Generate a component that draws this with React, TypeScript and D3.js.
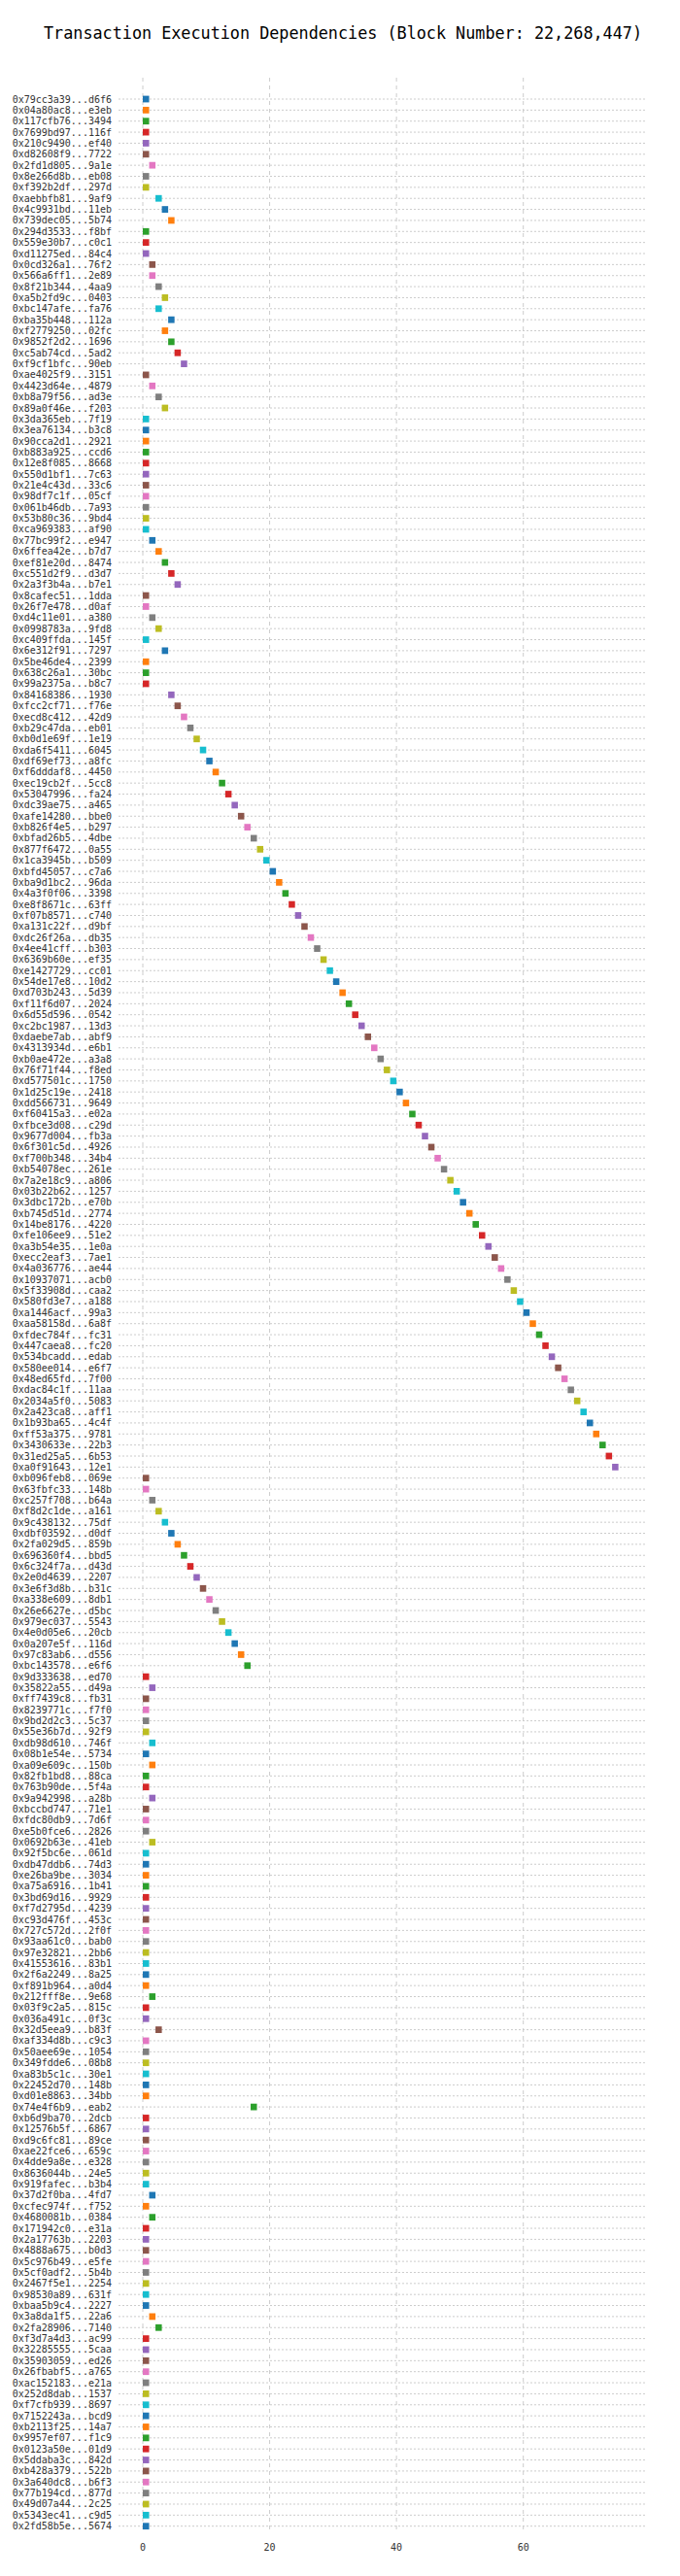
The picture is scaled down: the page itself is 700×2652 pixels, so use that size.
import React from "react";
import * as d3 from "d3";

const title = "Transaction Execution Dependencies (Block Number: 22,268,447)";

const txLabels: string[] = [
  "0x79cc3a39...d6f6","0x04a80ac8...e3eb","0x117cfb76...3494","0x7699bd97...116f","0x210c9490...ef40",
  "0xd82608f9...7722","0x2fd1d805...9a1e","0x8e266d8b...eb08","0xf392b2df...297d","0xaebbfb81...9af9",
  "0x4c9931bd...11eb","0x739dec05...5b74","0x294d3533...f8bf","0x559e30b7...c0c1","0xd11275ed...84c4",
  "0x0cd326a1...76f2","0x566a6ff1...2e89","0x8f21b344...4aa9","0xa5b2fd9c...0403","0xbc147afe...fa76",
  "0xba35b448...112a","0xf2779250...02fc","0x9852f2d2...1696","0xc5ab74cd...5ad2","0xf9cf1bfc...90eb",
  "0xae4025f9...3151","0x4423d64e...4879","0xb8a79f56...ad3e","0x89a0f46e...f203","0x3da365eb...7f19",
  "0x3ea76134...b3c8","0x90cca2d1...2921","0xb883a925...ccd6","0x12e8f085...8668","0x550d1bf1...7c63",
  "0x21e4c43d...33c6","0x98df7c1f...05cf","0x061b46db...7a93","0x53b80c36...9bd4","0xca969383...af90",
  "0x77bc99f2...e947","0x6ffea42e...b7d7","0xef81e20d...8474","0xc551d2f9...d3d7","0x2a3f3b4a...b7e1",
  "0x8cafec51...1dda","0x26f7e478...d0af","0xd4c11e01...a380","0x0998783a...9fd8","0xc409ffda...145f",
  "0x6e312f91...7297","0x5be46de4...2399","0x638c26a1...30bc","0x99a2375a...b8c7","0x84168386...1930",
  "0xfcc2cf71...f76e","0xecd8c412...42d9","0xb29c47da...eb01","0xb0d1e69f...1e19","0xda6f5411...6045",
  "0xdf69ef73...a8fc","0xf6dddaf8...4450","0xec19cb2f...5cc8","0x53047996...fa24","0xdc39ae75...a465",
  "0xafe14280...bbe0","0xb826f4e5...b297","0xbfad26b5...4dbe","0x877f6472...0a55","0x1ca3945b...b509",
  "0xbfd45057...c7a6","0xba9d1bc2...96da","0x4a3f0f06...3398","0xe8f8671c...63ff","0xf07b8571...c740",
  "0xa131c22f...d9bf","0xdc26f26a...db35","0x4ee41cff...b303","0x6369b60e...ef35","0xe1427729...cc01",
  "0x54de17e8...10d2","0xd703b243...5d39","0xf11f6d07...2024","0x6d55d596...0542","0xc2bc1987...13d3",
  "0xdaebe7ab...abf9","0x4313934d...e6b1","0xb0ae472e...a3a8","0x76f71f44...f8ed","0xd577501c...1750",
  "0x1d25c19e...2418","0xdd566731...9649","0xf60415a3...e02a","0xfbce3d08...c29d","0x9677d004...fb3a",
  "0x6f301c5d...4926","0xf700b348...34b4","0xb54078ec...261e","0x7a2e18c9...a806","0x03b22b62...1257",
  "0x3dbc172b...e70b","0xb745d51d...2774","0x14be8176...4220","0xfe106ee9...51e2","0xa3b54e35...1e0a",
  "0xecc2eaf3...7ae1","0x4a036776...ae44","0x10937071...acb0","0x5f33908d...caa2","0x580fd3e7...a188",
  "0xa1446acf...99a3","0xaa58158d...6a8f","0xfdec784f...fc31","0x447caea8...fc20","0x534bcadd...edab",
  "0x580ee014...e6f7","0x48ed65fd...7f00","0xdac84c1f...11aa","0x2034a5f0...5083","0x2a423ca8...aff1",
  "0x1b93ba65...4c4f","0xff53a375...9781","0x3430633e...22b3","0x31ed25a5...6b53","0xa0f91643...12e1",
  "0xb096feb8...069e","0x63fbfc33...148b","0xc257f708...b64a","0xf8d2c1de...a161","0x9c438132...75df",
  "0xdbf03592...d0df","0x2fa029d5...859b","0x696360f4...bbd5","0x6c324f7a...d43d","0x2e0d4639...2207",
  "0x3e6f3d8b...b31c","0xa338e609...8db1","0x26e6627e...d5bc","0x979ec037...5543","0x4e0d05e6...20cb",
  "0x0a207e5f...116d","0x97c83ab6...d556","0xbc143578...e6f6","0x9d333638...ed70","0x35822a55...d49a",
  "0xff7439c8...fb31","0x8239771c...f7f0","0x9bd2d2c3...5c37","0x55e36b7d...92f9","0xdb98d610...746f",
  "0x08b1e54e...5734","0xa09e609c...150b","0x82fb1bd8...88ca","0x763b90de...5f4a","0x9a942998...a28b",
  "0xbccbd747...71e1","0xfdc80db9...7d6f","0xe5b0fce6...2826","0x0692b63e...41eb","0x92f5bc6e...061d",
  "0xdb47ddb6...74d3","0xe26ba9be...3034","0xa75a6916...1b41","0x3bd69d16...9929","0xf7d2795d...4239",
  "0xc93d476f...453c","0x727c572d...2f0f","0x93aa61c0...bab0","0x97e32821...2bb6","0x41553616...83b1",
  "0x2f6a2249...8a25","0xf891b964...a0d4","0x212fff8e...9e68","0x03f9c2a5...815c","0x036a491c...0f3c",
  "0x32d5eea9...b83f","0xaf334d8b...c9c3","0x50aee69e...1054","0x349fdde6...08b8","0xa83b5c1c...30e1",
  "0x22452d70...148b","0xd01e8863...34bb","0x74e4f6b9...eab2","0xb6d9ba70...2dcb","0x12576b5f...6867",
  "0xd9c6fc81...89ce","0xae22fce6...659c","0x4dde9a8e...e328","0x8636044b...24e5","0x919fafec...b3b4",
  "0x37d2f0ba...4fd7","0xcfec974f...f752","0x4680081b...0384","0x171942c0...e31a","0x2a17763b...2203",
  "0x4888a675...b0d3","0x5c976b49...e5fe","0x5cf0adf2...5b4b","0x2467f5e1...2254","0x98530a89...631f",
  "0xbaa5b9c4...2227","0x3a8da1f5...22a6","0x2fa28906...7140","0xf3d7a4d3...ac99","0x32285555...5caa",
  "0x35903059...ed26","0x26fbabf5...a765","0xac152183...e21a","0x252d8dab...1537","0xf7cfb939...8697",
  "0x7152243a...bcd9","0xb2113f25...14a7","0x9957ef07...f1c9","0x0123a50e...01d9","0x5ddaba3c...842d",
  "0xb428a379...522b","0x3a640dc8...b6f3","0x77b194cd...877d","0x49d07a44...2c25","0x5343ec41...c9d5",
  "0x2fd58b5e...5674",
];

const startSteps: number[] = [
  0,0,0,0,0,0,1,0,0,2,
  3,4,0,0,0,1,1,2,3,2,
  4,3,4,5,6,0,1,2,3,0,
  0,0,0,0,0,0,0,0,0,0,
  1,2,3,4,5,0,0,1,2,0,
  3,0,0,0,4,5,6,7,8,9,
  10,11,12,13,14,15,16,17,18,19,
  20,21,22,23,24,25,26,27,28,29,
  30,31,32,33,34,35,36,37,38,39,
  40,41,42,43,44,45,46,47,48,49,
  50,51,52,53,54,55,56,57,58,59,
  60,61,62,63,64,65,66,67,68,69,
  70,71,72,73,74,0,0,1,2,3,
  4,5,6,7,8,9,10,11,12,13,
  14,15,16,0,1,0,0,0,0,1,
  0,1,0,0,1,0,0,0,1,0,
  0,0,0,0,0,0,0,0,0,0,
  0,0,1,0,0,2,0,0,0,0,
  0,0,17,0,0,0,0,0,0,0,
  1,0,1,0,0,0,0,0,0,0,
  0,1,2,0,0,0,0,0,0,0,
  0,0,0,0,0,0,0,0,0,0,
  0,
];

const xTicks: number[] = [0, 20, 40, 60];

export default function App() {
  const W = 700, H = 2652;
  const x = d3.scaleLinear().domain([0, 79.5]).range([147, 666]);
  const y = d3.scalePoint<string>().domain(txLabels).range([102, 2600.7]);
  const color = d3.scaleOrdinal<number, string>().domain(d3.range(10)).range(d3.schemeCategory10);
  const font = "DejaVu Sans Mono, monospace";
  const rw = x(1) - x(0);
  return (
    <svg width={W} height={H} style={{ position: "absolute", left: 0, top: 0, background: "#fff" }}>
      <text x={45} y={40} fontFamily={font} fontSize={18} fill="#000" textLength={616} lengthAdjust="spacingAndGlyphs">{title}</text>
      {txLabels.map((l) => (
        <line key={"h" + l} x1={122} x2={666} y1={y(l)} y2={y(l)} stroke="#ccc" strokeWidth={1} strokeDasharray="2,2" />
      ))}
      {xTicks.map((t) => (
        <g key={t}>
          <line x1={x(t)} x2={x(t)} y1={80} y2={2608} stroke="#ccc" strokeWidth={1} strokeDasharray="4,4" />
          <text x={x(t)} y={2626} textAnchor="middle" fontFamily={font} fontSize={10} fill="#333">{t}</text>
        </g>
      ))}
      {txLabels.map((l) => (
        <text key={"t" + l} x={115} y={(y(l) as number) + 3.5} textAnchor="end" fontFamily={font} fontSize={10} fill="#333">{l}</text>
      ))}
      {txLabels.map((l, i) => (
        <rect key={"r" + l} x={x(startSteps[i])} y={(y(l) as number) - 3.4} width={rw} height={6.8} fill={color(i % 10)} />
      ))}
    </svg>
  );
}
